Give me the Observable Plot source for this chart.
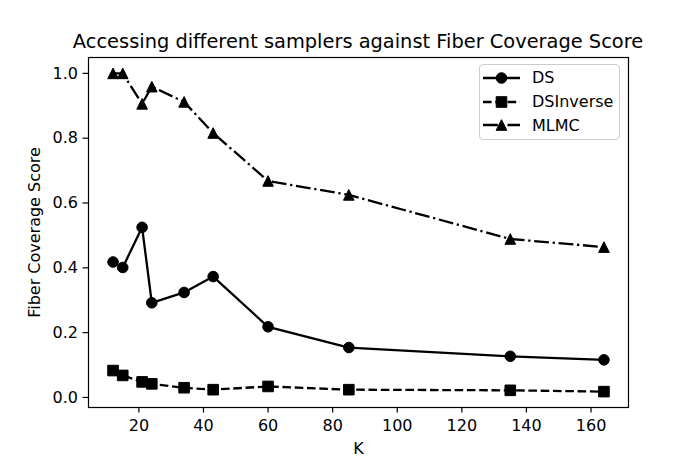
<!DOCTYPE html>
<html><head><meta charset="utf-8">
<script src="https://cdn.jsdelivr.net/npm/d3@7"></script>
<script src="https://cdn.jsdelivr.net/npm/@observablehq/plot@0.6"></script>
<style>
body{margin:0;background:#fff;font-family:"DejaVu Sans",sans-serif;}
#wrap{position:relative;width:698px;height:465px;overflow:hidden;}
#wrap svg.plot{position:absolute;left:0;top:0;}
#title{position:absolute;left:58px;width:600px;top:29px;text-align:center;font-size:19.4px;line-height:26px;color:#000;white-space:nowrap;}
#legend{position:absolute;left:479px;top:64px;width:139px;height:74px;border:1px solid #cccccc;border-radius:4px;background:rgba(255,255,255,0.8);}
.row{position:absolute;left:0;height:20px;display:flex;align-items:center;font-size:16px;color:#000;}
.row svg{margin-left:3px;margin-right:12px;}
</style></head><body>
<div id="wrap"></div>
<script>
const K = [12, 15, 21, 24, 34, 43, 60, 85, 135, 164];
const seriesNames = ["DS", "DSInverse", "MLMC"];
const dsValues = [0.418, 0.401, 0.525, 0.292, 0.324, 0.373, 0.218, 0.154, 0.127, 0.116];
const dsInverseValues = [0.083, 0.068, 0.048, 0.042, 0.030, 0.024, 0.034, 0.024, 0.022, 0.018];
const mlmcValues = [1.0, 1.0, 0.906, 0.959, 0.912, 0.816, 0.668, 0.625, 0.489, 0.464];
const xTicks = [20, 40, 60, 80, 100, 120, 140, 160];
const yTicks = [0.0, 0.2, 0.4, 0.6, 0.8, 1.0];
const titleText = "Accessing different samplers against Fiber Coverage Score";
const xLabel = "K";
const yLabel = "Fiber Coverage Score";

const valuesBySeries = {DS: dsValues, DSInverse: dsInverseValues, MLMC: mlmcValues};
const data = seriesNames.flatMap(s => K.map((k, i) => ({K: k, score: valuesBySeries[s][i], series: s})));

const circleSym = {draw(c, size){const h = Math.sqrt(size/Math.PI); c.moveTo(h,0); c.arc(0,0,h,0,2*Math.PI);}};
const squareSym = {draw(c, size){const h = Math.sqrt(size/Math.PI); c.rect(-h,-h,2*h,2*h);}};
const triSym = {draw(c, size){const h = Math.sqrt(size/Math.PI); c.moveTo(0,-h); c.lineTo(h,h); c.lineTo(-h,h); c.closePath();}};

const styles = {
  DS: {dash: null, sym: circleSym},
  DSInverse: {dash: "8.6,3.7", sym: squareSym},
  MLMC: {dash: "14.8,3.7,2.3,3.7", sym: triSym}
};

const lineMarks = seriesNames.map(s => Plot.line(data.filter(d => d.series === s), {
  x: "K", y: "score", stroke: "black", strokeWidth: 2.3,
  strokeDasharray: styles[s].dash, strokeLinejoin: "round", strokeLinecap: "butt"
}));
const dotMarks = seriesNames.map(s => Plot.dot(data.filter(d => d.series === s), {
  x: "K", y: "score", symbol: styles[s].sym, r: 5.3, fill: "black", stroke: "black", strokeWidth: 1
}));

const chart = Plot.plot({
  width: 698, height: 465,
  marginLeft: 88, marginRight: 70, marginTop: 57, marginBottom: 58,
  style: {fontFamily: "DejaVu Sans", fontSize: "16px", color: "black", background: "white"},
  x: {domain: [4.4, 171.6]},
  y: {domain: [-0.031, 1.049]},
  marks: [
    Plot.axisX({ticks: xTicks, tickSize: 5.5, tickPadding: 7, strokeWidth: 1.2,
      label: xLabel, labelAnchor: "center", labelArrow: "none", labelOffset: 46}),
    Plot.axisY({ticks: yTicks, tickFormat: d3.format(".1f"), tickSize: 5.5, tickPadding: 5, strokeWidth: 1.2,
      label: yLabel, labelAnchor: "center", labelArrow: "none", labelOffset: 60}),
    ...lineMarks,
    ...dotMarks,
    Plot.frame({stroke: "black", strokeWidth: 1.2})
  ]
});

const wrap = document.getElementById("wrap");
wrap.appendChild(chart);
const title = document.createElement("div");
title.id = "title"; title.textContent = titleText;
wrap.appendChild(title);

const legend = document.createElement("div");
legend.id = "legend";
const rowTops = [2.5, 26.5, 50];
seriesNames.forEach((s, i) => {
  const row = document.createElement("div");
  row.className = "row"; row.style.top = rowTops[i] + "px";
  const ns = "http://www.w3.org/2000/svg";
  const svg = document.createElementNS(ns, "svg");
  svg.setAttribute("width", 37); svg.setAttribute("height", 20);
  const ln = document.createElementNS(ns, "line");
  ln.setAttribute("x1", 0); ln.setAttribute("x2", 37); ln.setAttribute("y1", 10); ln.setAttribute("y2", 10);
  ln.setAttribute("stroke", "black"); ln.setAttribute("stroke-width", 2.3);
  if (styles[s].dash) ln.setAttribute("stroke-dasharray", styles[s].dash);
  svg.appendChild(ln);
  const p = document.createElementNS(ns, "path");
  p.setAttribute("d", d3.symbol(styles[s].sym, Math.PI * 5.3 * 5.3)());
  p.setAttribute("transform", "translate(18.5,10)");
  p.setAttribute("fill", "black"); p.setAttribute("stroke", "black");
  svg.appendChild(p);
  row.appendChild(svg);
  const t = document.createElement("span"); t.textContent = s;
  row.appendChild(t);
  legend.appendChild(row);
});
wrap.appendChild(legend);
</script>
</body></html>
